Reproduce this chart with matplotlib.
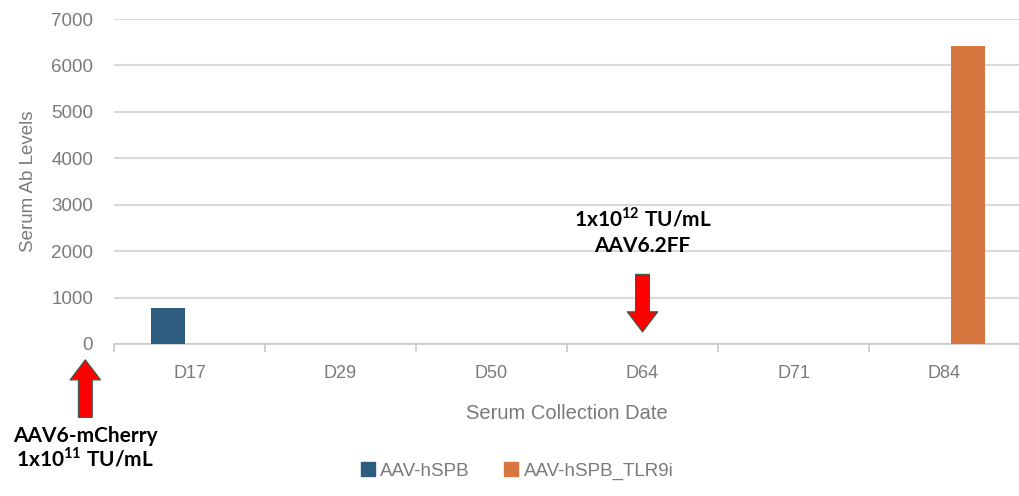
import numpy as np
import matplotlib.pyplot as plt
from matplotlib.patches import Patch

# dados dos soros
datas = ["D17", "D29", "D50", "D64", "D71", "D84"]
aav_hspb = [770, 0, 0, 0, 0, 0]
aav_hspb_tlr9i = [0, 0, 0, 0, 0, 6420]

cor_azul = "#2c5d80"
cor_laranja = "#d8763f"
cinza_texto = "#7a7a7a"
cinza_grade = "#d9d9d9"

plt.rcParams["font.family"] = ["Liberation Sans", "DejaVu Sans"]
plt.rcParams["mathtext.fontset"] = "custom"
plt.rcParams["mathtext.bf"] = "Lato:bold"
plt.rcParams["mathtext.rm"] = "Lato"

fig = plt.figure(figsize=(10.2, 4.96), dpi=100)
ax = fig.add_axes([114 / 1020, 1 - 344 / 496, (1020 - 114) / 1020, 325 / 496])

x = np.arange(len(datas))
largura = 0.225

ax.bar(x - 0.145, aav_hspb, largura, color=cor_azul, zorder=3)
ax.bar(x + 0.155, aav_hspb_tlr9i, largura, color=cor_laranja, zorder=3)

ax.set_xlim(-0.5, len(datas) - 0.5)
ax.set_ylim(0, 7000)
ax.set_yticks(np.arange(0, 7001, 1000))
ax.yaxis.grid(True, color=cinza_grade, linewidth=1.5, zorder=0)

ax.set_xticks(x)
ax.set_xticklabels(datas)
ax.set_xticks(np.arange(-0.5, len(datas)), minor=True)
ax.tick_params(axis="x", which="major", length=0, pad=15,
               labelsize=13, labelcolor=cinza_texto)
ax.tick_params(axis="x", which="minor", length=6, width=1.2,
               color="#c8c8c8", direction="out")
ax.tick_params(axis="y", length=0, pad=15, labelsize=13.5,
               labelcolor=cinza_texto)

for lado in ["top", "right", "left"]:
    ax.spines[lado].set_visible(False)
ax.spines["bottom"].set_color("#c8c8c8")
ax.spines["bottom"].set_linewidth(1.2)

ax.set_xlabel("Serum Collection Date", fontsize=14.5, color=cinza_texto,
              labelpad=16)
ax.set_ylabel("Serum Ab Levels", fontsize=13.5, color=cinza_texto,
              labelpad=10)

# setas de aplicação
seta = dict(arrowstyle="simple,head_width=2.2,head_length=1.45,tail_width=1.0",
            fc="#ff0000", ec="#2f5f4f", lw=0.8, mutation_scale=10)
fonte_nota = dict(family=["Lato", "DejaVu Sans"], fontweight="bold",
                  fontsize=15, color="black", ha="center", va="center")

ax.annotate("", xy=(-0.69, -280), xytext=(-0.69, -1640),
            arrowprops=seta, annotation_clip=False)
ax.text(-0.69, -1980, "AAV6-mCherry", clip_on=False, **fonte_nota)
ax.text(-0.69, -2460, r"1x10$^{\mathbf{11}}$ TU/mL", clip_on=False,
        **fonte_nota)

ax.annotate("", xy=(3, 200), xytext=(3, 1560),
            arrowprops=seta, annotation_clip=False)
ax.text(3, 2720, r"1x10$^{\mathbf{12}}$ TU/mL", **fonte_nota)
ax.text(3, 2110, "AAV6.2FF", **fonte_nota)

handles = [Patch(color=cor_azul, label="AAV-hSPB"),
           Patch(color=cor_laranja, label="AAV-hSPB_TLR9i")]
fig.legend(handles=handles, loc="center", ncol=2,
           bbox_to_anchor=(517 / 1020, 1 - 471 / 496), frameon=False,
           handlelength=0.75, handleheight=0.75, handletextpad=0.3,
           columnspacing=1.8, labelcolor=cinza_texto, fontsize=13.5)

fig.savefig("out.png", dpi=100)
plt.close(fig)
